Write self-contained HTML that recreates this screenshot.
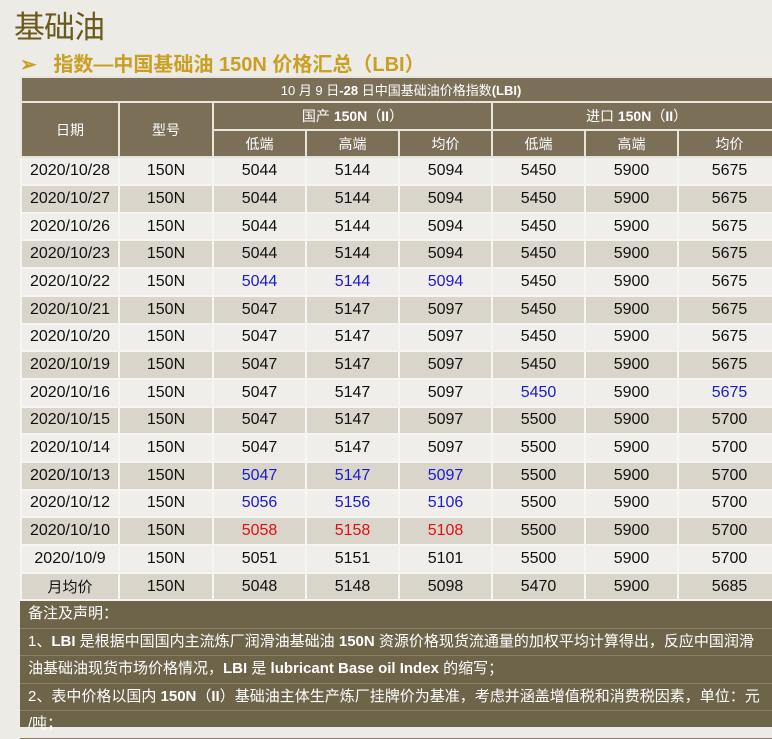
<!DOCTYPE html>
<html><head><meta charset="utf-8"><style>
body{margin:0;width:772px;height:727px;background:#edebe6;overflow:hidden;position:relative;font-family:"Liberation Sans","Noto Sans CJK SC",sans-serif}
.t1{position:absolute;left:14px;top:2px;font-size:31px;color:#6b5a1e;font-family:"Noto Sans CJK SC",sans-serif;letter-spacing:-1px}
.t2{position:absolute;left:20px;top:48px;font-size:20px;color:#c9a024;font-weight:bold;font-family:"Liberation Sans","Noto Sans CJK SC",sans-serif}
table{position:absolute;left:20px;top:76px;border-collapse:collapse;table-layout:fixed;width:760px}
td{padding:0;text-align:center;border:2px solid #f6f5f2;font-size:16px;color:#111;height:25.7px;overflow:hidden;white-space:nowrap}
.h td{background:#7b6f57;color:#fff;font-size:14px;border-color:#e8e4d8}
.ttl td{background:#7b6f57;color:#fff;font-size:13px;height:23px;border-color:#e8e4d8}
tr.a td{background:#efeeea}
tr.b td{background:#d9d5ca}
.bl{color:#1a1ad0}.rd{color:#e01010}
.notes{position:absolute;left:20px;top:601px;width:760px;height:126px;background:#6e6449;color:#fff;font-size:15px}
.notes div{height:26.5px;line-height:26px;border-bottom:1px solid #8a8066;padding-left:8px;white-space:nowrap}
</style></head><body>
<div class="t1">基础油</div>
<div class="t2">➢ &nbsp;&nbsp;指数—中国基础油 150N 价格汇总（LBI）</div>
<table>
<colgroup><col style="width:98px"><col style="width:94px"><col style="width:93px"><col style="width:93px"><col style="width:93px"><col style="width:93px"><col style="width:93px"><col style="width:103px"></colgroup>
<tr class="ttl"><td colspan="8">10 月 9 日<b>-28</b> 日中国基础油价格指数<b>(LBI)</b></td></tr>
<tr class="h"><td rowspan="2">日期</td><td rowspan="2">型号</td><td colspan="3">国产 <b>150N</b>（<b>II</b>）</td><td colspan="3">进口 <b>150N</b>（<b>II</b>）</td></tr>
<tr class="h"><td>低端</td><td>高端</td><td>均价</td><td>低端</td><td>高端</td><td>均价</td></tr>
<tr class="a"><td>2020/10/28</td><td>150N</td><td>5044</td><td>5144</td><td>5094</td><td>5450</td><td>5900</td><td>5675</td></tr>
<tr class="b"><td>2020/10/27</td><td>150N</td><td>5044</td><td>5144</td><td>5094</td><td>5450</td><td>5900</td><td>5675</td></tr>
<tr class="a"><td>2020/10/26</td><td>150N</td><td>5044</td><td>5144</td><td>5094</td><td>5450</td><td>5900</td><td>5675</td></tr>
<tr class="b"><td>2020/10/23</td><td>150N</td><td>5044</td><td>5144</td><td>5094</td><td>5450</td><td>5900</td><td>5675</td></tr>
<tr class="a"><td>2020/10/22</td><td>150N</td><td class="bl">5044</td><td class="bl">5144</td><td class="bl">5094</td><td>5450</td><td>5900</td><td>5675</td></tr>
<tr class="b"><td>2020/10/21</td><td>150N</td><td>5047</td><td>5147</td><td>5097</td><td>5450</td><td>5900</td><td>5675</td></tr>
<tr class="a"><td>2020/10/20</td><td>150N</td><td>5047</td><td>5147</td><td>5097</td><td>5450</td><td>5900</td><td>5675</td></tr>
<tr class="b"><td>2020/10/19</td><td>150N</td><td>5047</td><td>5147</td><td>5097</td><td>5450</td><td>5900</td><td>5675</td></tr>
<tr class="a"><td>2020/10/16</td><td>150N</td><td>5047</td><td>5147</td><td>5097</td><td class="bl">5450</td><td>5900</td><td class="bl">5675</td></tr>
<tr class="b"><td>2020/10/15</td><td>150N</td><td>5047</td><td>5147</td><td>5097</td><td>5500</td><td>5900</td><td>5700</td></tr>
<tr class="a"><td>2020/10/14</td><td>150N</td><td>5047</td><td>5147</td><td>5097</td><td>5500</td><td>5900</td><td>5700</td></tr>
<tr class="b"><td>2020/10/13</td><td>150N</td><td class="bl">5047</td><td class="bl">5147</td><td class="bl">5097</td><td>5500</td><td>5900</td><td>5700</td></tr>
<tr class="a"><td>2020/10/12</td><td>150N</td><td class="bl">5056</td><td class="bl">5156</td><td class="bl">5106</td><td>5500</td><td>5900</td><td>5700</td></tr>
<tr class="b"><td>2020/10/10</td><td>150N</td><td class="rd">5058</td><td class="rd">5158</td><td class="rd">5108</td><td>5500</td><td>5900</td><td>5700</td></tr>
<tr class="a"><td>2020/10/9</td><td>150N</td><td>5051</td><td>5151</td><td>5101</td><td>5500</td><td>5900</td><td>5700</td></tr>
<tr class="b"><td style="font-family:'Noto Sans CJK SC',sans-serif;font-size:15px">月均价</td><td>150N</td><td>5048</td><td>5148</td><td>5098</td><td>5470</td><td>5900</td><td>5685</td></tr>
</table>
<div class="notes">
<div>备注及声明：</div>
<div>1、<b>LBI</b> 是根据中国国内主流炼厂润滑油基础油 <b>150N</b> 资源价格现货流通量的加权平均计算得出，反应中国润滑</div>
<div>油基础油现货市场价格情况，<b>LBI</b> 是 <b>lubricant Base oil Index</b> 的缩写；</div>
<div>2、表中价格以国内 <b>150N</b>（<b>II</b>）基础油主体生产炼厂挂牌价为基准，考虑并涵盖增值税和消费税因素，单位：元</div>
<div>/吨；</div>
</div>
</body></html>
